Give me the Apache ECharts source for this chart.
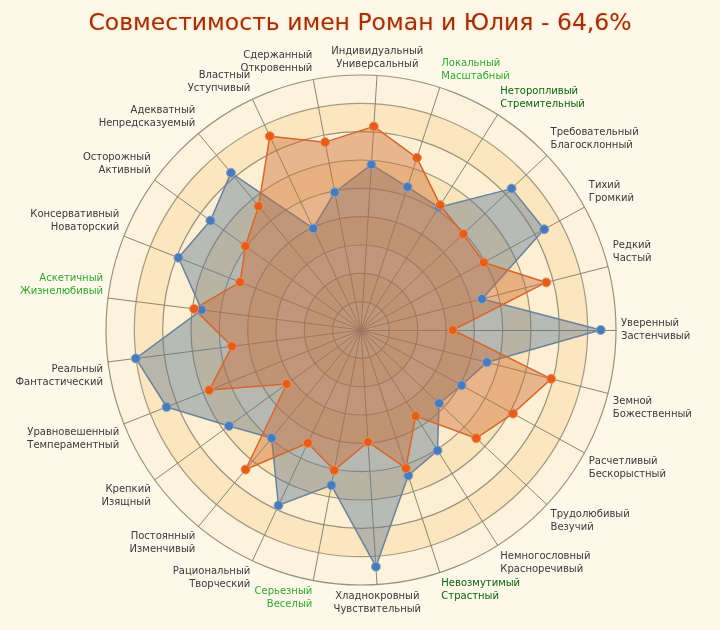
<!DOCTYPE html>
<html><head><meta charset="utf-8">
<script src="https://cdn.jsdelivr.net/npm/echarts@6/dist/echarts.min.js"></script>
<style>html,body{margin:0;padding:0;background:#fdf8ea;}#c{width:720px;height:630px;}</style>
</head><body><div id="c"></div>
<script>
const titleText = 'Совместимость имен Роман и Юлия - 64,6%';
// indicators listed counter-clockwise, starting from the top axis
const traitLow = ['Индивидуальный','Сдержанный','Властный','Адекватный','Осторожный','Консервативный','Аскетичный','Реальный','Уравновешенный','Крепкий','Постоянный','Рациональный','Серьезный','Хладнокровный','Невозмутимый','Немногословный','Трудолюбивый','Расчетливый','Земной','Уверенный','Редкий','Тихий','Требовательный','Неторопливый','Локальный'];
const traitHigh = ['Универсальный','Откровенный','Уступчивый','Непредсказуемый','Активный','Новаторский','Жизнелюбивый','Фантастический','Темпераментный','Изящный','Изменчивый','Творческий','Веселый','Чувствительный','Страстный','Красноречивый','Везучий','Бескорыстный','Божественный','Застенчивый','Частый','Громкий','Благосклонный','Стремительный','Масштабный'];
// 0 = neutral, 1 = matching (green), 2 = matching (dark green)
const traitMark = [0,0,0,0,0,0,1,0,0,0,0,0,1,0,2,0,0,0,0,0,0,0,0,2,1];
const valuesBlue = [65,55,44,80,73,77,63,89,82,64,55,76,62,93,60,56,42,45,51,94,49,82,81,57,59];
const valuesOrange = [80,75,84,63,56,51,66,51,64,36,71,49,56,44,57,40,62,68,77,36,75,55,55,58,71];
const axisMax = 100;

const markColors = ['#3a3a3a', '#2fa82f', '#0b650b'];
const startAngle = 86.4;
const step = 360 / traitLow.length;

const indicators = traitLow.map((t, i) => {
  const ang = (startAngle + i * step) * Math.PI / 180;
  const c = Math.cos(ang), s = Math.sin(ang);
  let align = Math.abs(c) < 0.1 ? 'center' : (c > 0 ? 'left' : 'right');
  let valign = Math.abs(s) < 0.05 ? 'middle' : (s > 0 ? 'bottom' : 'top');
  return {
    name: t + '\n' + traitHigh[i],
    max: axisMax,
    color: markColors[traitMark[i]],
    nameTextStyle: { align: align, verticalAlign: valign }
  };
});

const chart = echarts.init(document.getElementById('c'), null, {renderer: 'canvas'});
chart.setOption({
  backgroundColor: '#fdf8ea',
  animation: false,
  title: {
    text: titleText, left: 'center', top: 7,
    textStyle: { fontFamily: 'DejaVu Sans', fontSize: 23.5, fontWeight: 'normal', color: '#a0300c',
      textShadowColor: 'rgba(240,200,150,0.9)', textShadowBlur: 3 }
  },
  radar: {
    center: [361, 330], radius: 255, startAngle: startAngle,
    shape: 'circle', splitNumber: 9,
    indicator: indicators,
    nameGap: 5,
    axisName: { fontFamily: 'DejaVu Sans', fontSize: 10, lineHeight: 13, color: '#3a3a3a' },
    axisLine: { lineStyle: { color: '#8c8672', width: 1 } },
    splitLine: { lineStyle: { color: ['#9a927c','#9a927c','#9a927c','#9a927c','#9a927c','#9a927c','#9a927c','#9a927c','#a39a84'], width: 1.2 } },
    splitArea: { areaStyle: { color: ['#fae8c4','#f9e0b2','#fbeac8','#fae2b5','#fcecce','#fae4b9','#fcefd3','#fbe6bf','#fdf2db'] } }
  },
  series: [{
    type: 'radar',
    symbol: 'circle', symbolSize: 9,
    z: 2,
    data: [{
      name: 'Роман', value: valuesBlue,
      lineStyle: { color: '#6f87a0', width: 1.5 },
      areaStyle: { color: 'rgba(96,118,142,0.62)' },
      itemStyle: { color: '#4a7ab8', borderColor: '#86a8d0', borderWidth: 1 }
    }, {
      name: 'Юлия', value: valuesOrange,
      lineStyle: { color: '#d8652c', width: 1.5 },
      areaStyle: { color: 'rgba(204,108,52,0.62)' },
      itemStyle: { color: '#e45d1a', borderColor: '#f0915a', borderWidth: 1 }
    }]
  }]
});
</script></body></html>
